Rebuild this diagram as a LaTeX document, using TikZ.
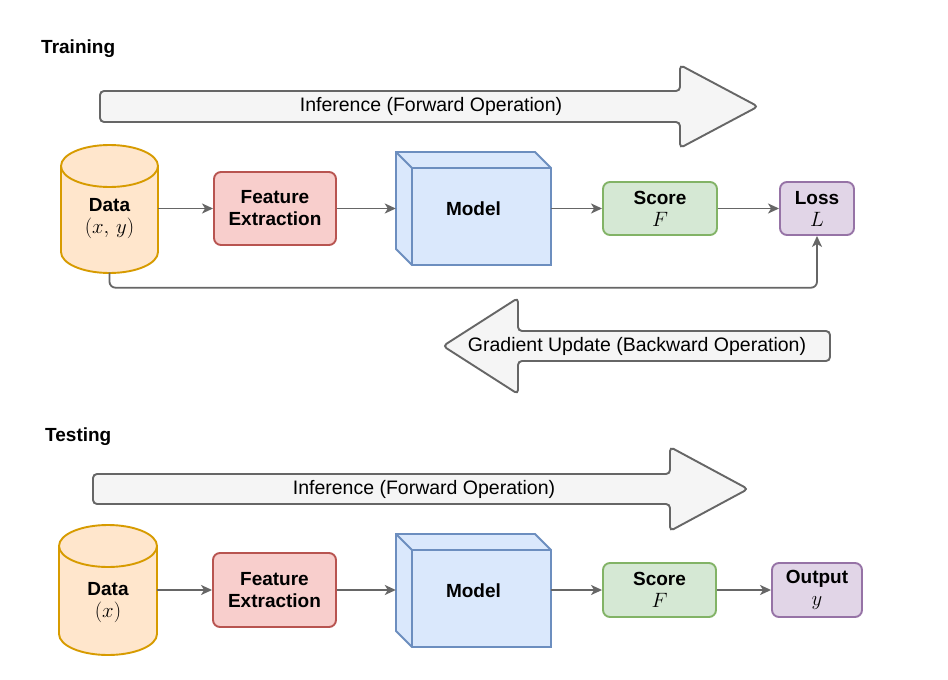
\documentclass[tikz,border=0pt]{standalone}
\usepackage{fontspec}
\setmainfont{Liberation Sans}
\usetikzlibrary{arrows.meta,calc}
\definecolor{dataF}{HTML}{FFE6CC}\definecolor{dataD}{HTML}{D79B00}
\definecolor{feF}{HTML}{F8CECC}\definecolor{feD}{HTML}{B85450}
\definecolor{modF}{HTML}{DAE8FC}\definecolor{modD}{HTML}{6C8EBF}
\definecolor{scF}{HTML}{D5E8D4}\definecolor{scD}{HTML}{82B366}
\definecolor{lossF}{HTML}{E1D5E7}\definecolor{lossD}{HTML}{9673A6}
\definecolor{baF}{HTML}{F5F5F5}\definecolor{cgray}{HTML}{666666}
\begin{document}
\begin{tikzpicture}[x=1pt,y=-1pt,
  lbl/.style={font=\fontsize{19}{22}\selectfont\bfseries, align=center, inner sep=0pt},
  plain/.style={font=\fontsize{19.5}{22}\selectfont, inner sep=0pt},
  box/.style={lbl, draw, rounded corners=7pt, line width=1.9pt},
  shapeline/.style={line width=1.9pt},
  bigarrow/.style={fill=baF, draw=cgray, line width=1.9pt, rounded corners=4pt},
  conn/.style={draw=cgray, line width=1.8pt, -{Stealth[length=11pt,width=10pt,inset=3pt]}}]
\useasboundingbox (0,0) rectangle (948,680);
\fill[white] (0,0) rectangle (948,680);

% ---------------- Training ----------------
\node[lbl, anchor=base west] (trainlbl) at (41,53) {Training};

\filldraw[bigarrow] (100,91) -- (680,91) -- (680,65) -- (758,106.5) -- (680,148) -- (680,122) -- (100,122) -- cycle;
\node[plain] (inf1) at (431,106.5) {Inference (Forward Operation)};

% data cylinder
\filldraw[shapeline, fill=dataF, draw=dataD] (61,166) -- (61,252)
  arc[start angle=180, end angle=0, x radius=48.5, y radius=21] -- (158,166)
  arc[start angle=0, end angle=-180, x radius=48.5, y radius=21] -- cycle;
\draw[shapeline, draw=dataD] (61,166) arc[start angle=180, end angle=0, x radius=48.5, y radius=21];
\node[minimum width=97pt, minimum height=128pt, inner sep=0pt] (data1) at (109.5,208.5) {};
\node[lbl] (data1t) at (109.5,219) {Data\\{\fontsize{22}{22}\selectfont$(x,\,y)$}};

\node[box, fill=feF, draw=feD, minimum width=122pt, minimum height=73pt] (fe1) at (275,208.5) {Feature\\Extraction};

% model cube
\filldraw[shapeline, fill=modF, draw=modD] (396,152) -- (535,152) -- (551,168) -- (551,265) -- (412,265) -- (396,249) -- cycle;
\draw[shapeline, draw=modD] (396,152) -- (412,168) -- (551,168) (412,168) -- (412,265);
\node[lbl, minimum width=155pt, minimum height=113pt] (model1) at (473.5,208.5) {Model};

\node[box, fill=scF, draw=scD, minimum width=114pt, minimum height=53pt] (score1) at (660,208.5) {Score\\{\fontsize{22}{22}\selectfont$F$}};
\node[box, fill=lossF, draw=lossD, minimum width=74pt, minimum height=53pt] (loss) at (817,208.5) {Loss\\{\fontsize{22}{22}\selectfont$L$}};

\draw[conn] (data1.east) -- (fe1.west);
\draw[conn] (fe1.east) -- (model1.west);
\draw[conn] (model1.east) -- (score1.west);
\draw[conn] (score1.east) -- (loss.west);
\draw[conn, rounded corners=6pt] (data1.south) -- ++(0,15) -| (loss.south);

\filldraw[bigarrow] (830,331) -- (518,331) -- (518,298) -- (443,346) -- (518,394) -- (518,361) -- (830,361) -- cycle;
\node[plain] (grad) at (637,346.5) {Gradient Update (Backward Operation)};

% ---------------- Testing ----------------
\node[lbl, anchor=base west] (testlbl) at (45,441) {Testing};

\filldraw[bigarrow] (93,474) -- (670,474) -- (670,447) -- (748,489) -- (670,531) -- (670,504) -- (93,504) -- cycle;
\node[plain] (inf2) at (424,489) {Inference (Forward Operation)};

\filldraw[shapeline, fill=dataF, draw=dataD] (59,546) -- (59,634)
  arc[start angle=180, end angle=0, x radius=49, y radius=21] -- (157,546)
  arc[start angle=0, end angle=-180, x radius=49, y radius=21] -- cycle;
\draw[shapeline, draw=dataD] (59,546) arc[start angle=180, end angle=0, x radius=49, y radius=21];
\node[minimum width=98pt, minimum height=130pt, inner sep=0pt] (data2) at (108,590) {};
\node[lbl] (data2t) at (108,603) {Data\\{\fontsize{22}{22}\selectfont$(x)$}};

\node[box, fill=feF, draw=feD, minimum width=123pt, minimum height=74pt] (fe2) at (274.5,590) {Feature\\Extraction};

\filldraw[shapeline, fill=modF, draw=modD] (396,534) -- (535,534) -- (551,550) -- (551,647) -- (412,647) -- (396,631) -- cycle;
\draw[shapeline, draw=modD] (396,534) -- (412,550) -- (551,550) (412,550) -- (412,647);
\node[lbl, minimum width=155pt, minimum height=113pt] (model2) at (473.5,590.5) {Model};

\node[box, fill=scF, draw=scD, minimum width=113pt, minimum height=54pt] (score2) at (659.5,590) {Score\\{\fontsize{22}{22}\selectfont$F$}};
\node[box, fill=lossF, draw=lossD, minimum width=90pt, minimum height=54pt] (out) at (817,590) {Output\\{\fontsize{22}{22}\selectfont$y$}};

\draw[conn] (data2.east) -- (fe2.west);
\draw[conn] (fe2.east) -- (fe2.east -| model2.west);
\draw[conn] (model2.east |- score2.west) -- (score2.west);
\draw[conn] (score2.east) -- (out.west);
\end{tikzpicture}
\end{document}
